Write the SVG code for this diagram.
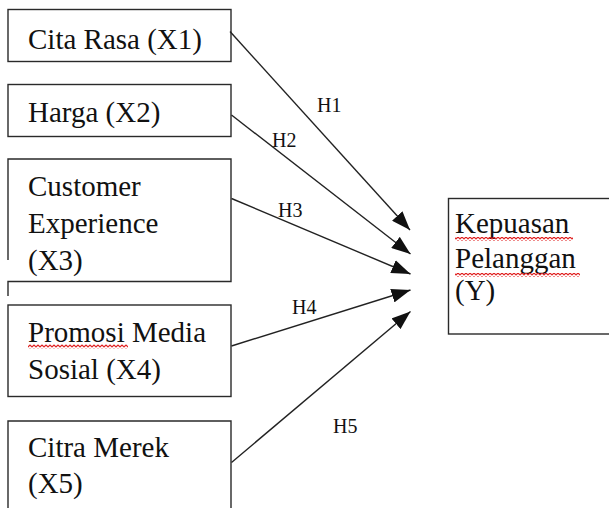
<svg xmlns="http://www.w3.org/2000/svg" width="609" height="508" viewBox="0 0 609 508">
  <style>
    .box { fill: none; stroke: #2a2a2a; stroke-width: 1.4; }
    .t { font-family: "Liberation Serif", "Times New Roman", serif; font-size: 29px; fill: #111; }
    .h { font-family: "Liberation Serif", "Times New Roman", serif; font-size: 20px; fill: #111; }
    .conn { stroke: #222; stroke-width: 1.4; fill: none; marker-end: url(#arrow); }
  </style>
  <defs>
    <marker id="arrow" markerUnits="userSpaceOnUse" markerWidth="20" markerHeight="14" refX="19" refY="7" orient="auto">
      <path d="M0,0 L19,7 L0,14 Z" fill="#111"/>
    </marker>
    <pattern id="wave" patternUnits="userSpaceOnUse" width="4" height="4">
      <path d="M0,3.2 L2,0.8 L4,3.2" fill="none" stroke="#e02020" stroke-width="1.2"/>
    </pattern>
  </defs>
  <rect width="609" height="508" fill="#ffffff"/>

  <g id="x1">
    <rect class="box" x="8" y="9.5" width="223" height="52"/>
    <text class="t" x="28" y="48.5">Cita Rasa (X1)</text>
  </g>
  <g id="x2">
    <rect class="box" x="8" y="84.5" width="223" height="52"/>
    <text class="t" x="28" y="121.5">Harga (X2)</text>
  </g>
  <g id="x3">
    <path class="box" d="M8,260 V159 H231 V281.5 H8 V296"/>
    <text class="t" x="28" y="196">Customer</text>
    <text class="t" x="28" y="232.5">Experience</text>
    <text class="t" x="28" y="269.5">(X3)</text>
  </g>
  <g id="x4">
    <rect class="box" x="8" y="305" width="223" height="91.5"/>
    <text class="t" x="28" y="341.5">Promosi Media</text>
    <rect x="28" y="344.5" width="100" height="4" fill="url(#wave)"/>
    <text class="t" x="28" y="378.5">Sosial (X4)</text>
  </g>
  <g id="x5">
    <path class="box" d="M8,520 V421 H231 V520"/>
    <text class="t" x="28" y="456.5">Citra Merek</text>
    <text class="t" x="28" y="493">(X5)</text>
  </g>
  <g id="y">
    <rect class="box" x="448.5" y="198.5" width="200" height="135.5"/>
    <text class="t" x="455" y="233">Kepuasan</text>
    <rect x="455" y="237" width="118" height="4" fill="url(#wave)"/>
    <text class="t" x="455" y="268">Pelanggan</text>
    <rect x="455" y="273" width="125" height="4" fill="url(#wave)"/>
    <text class="t" x="455" y="300">(Y)</text>
  </g>

  <g id="connectors">
    <line class="conn" x1="230" y1="31.5" x2="410" y2="230"/>
    <line class="conn" x1="231.5" y1="115" x2="410.5" y2="254"/>
    <line class="conn" x1="231.5" y1="198.5" x2="410.5" y2="274"/>
    <line class="conn" x1="231.5" y1="346" x2="410.5" y2="290"/>
    <line class="conn" x1="231.5" y1="462.5" x2="410.5" y2="311.5"/>
    <text class="h" x="317" y="111.5">H1</text>
    <text class="h" x="272" y="146.5">H2</text>
    <text class="h" x="278" y="217">H3</text>
    <text class="h" x="292" y="314">H4</text>
    <text class="h" x="333" y="433">H5</text>
  </g>
</svg>
